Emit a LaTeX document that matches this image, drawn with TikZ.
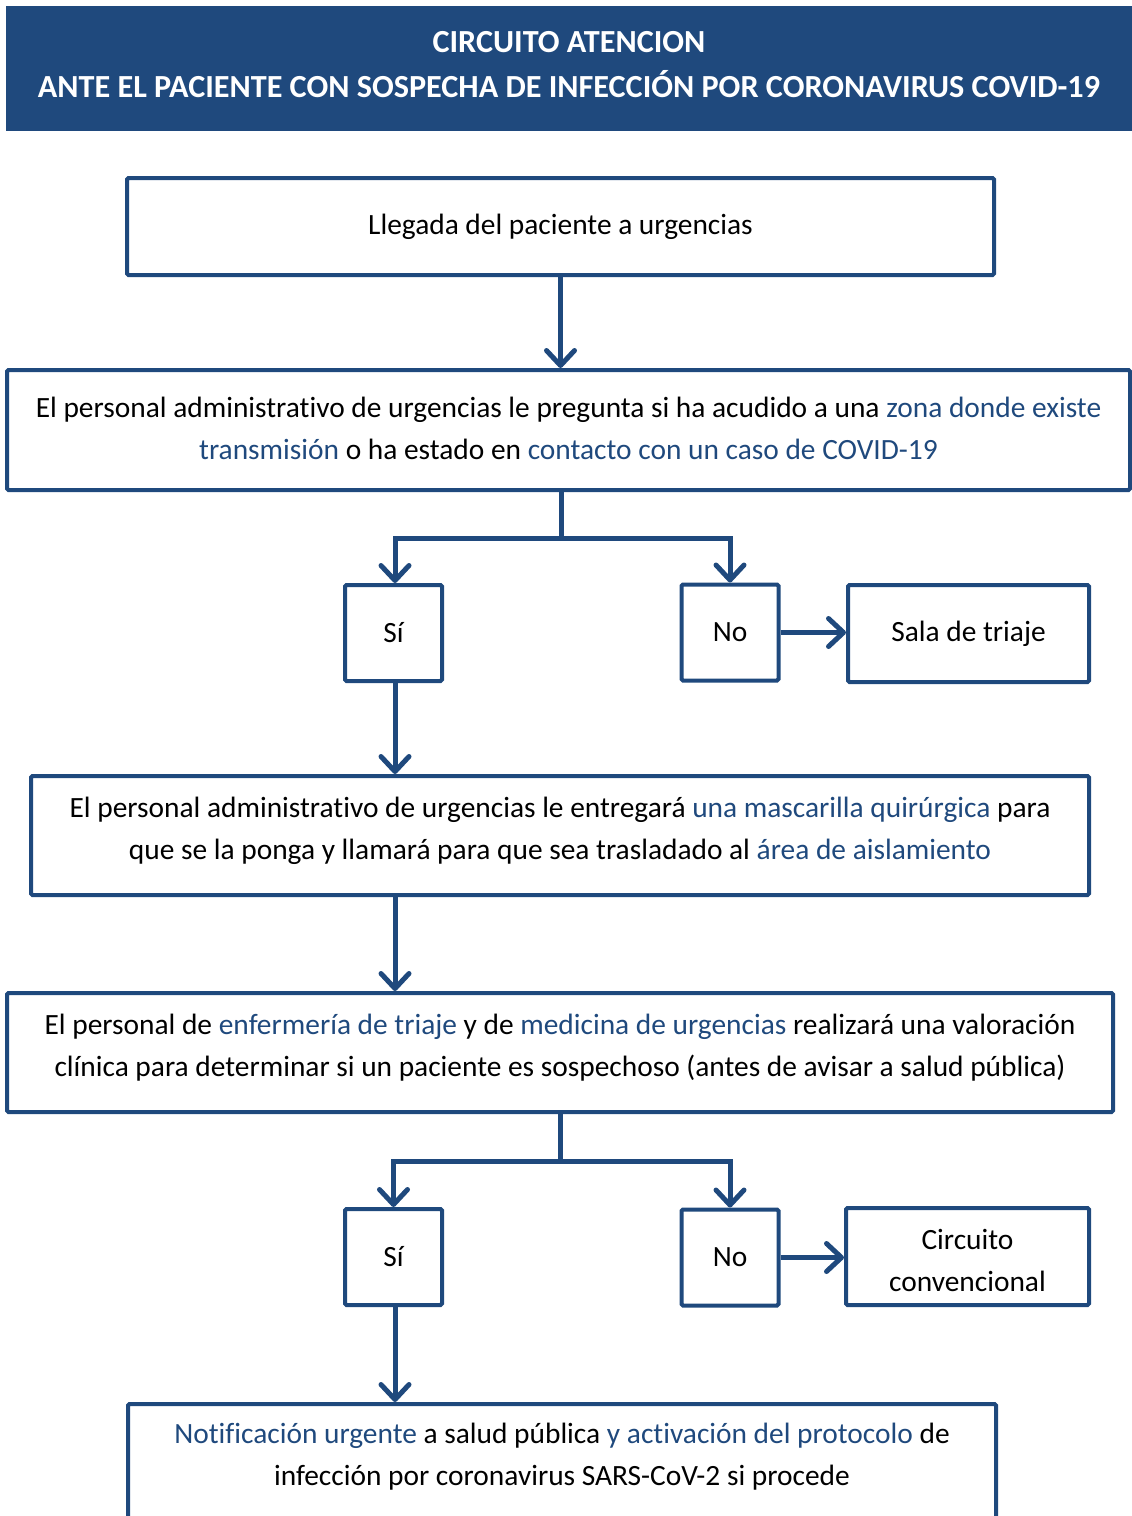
\documentclass[tikz,border=0pt]{standalone}
\usepackage{fontspec}
\setmainfont{Carlito}[Ligatures=NoCommon]
\usetikzlibrary{arrows.meta,positioning}
\definecolor{azul}{RGB}{31,73,125}
\newcommand{\resalta}[1]{\textcolor{azul}{#1}}

\begin{document}
\begin{tikzpicture}
  [x=1pt, y=-1pt,
  box/.style={rectangle, draw=azul, line width=4pt, rounded corners=1.5pt, align=center, inner sep=0pt, font=\fontsize{29.4}{42}\selectfont},
  texto/.style={align=center, inner sep=0pt, font=\fontsize{29.4}{42}\selectfont},
  line/.style={draw=azul, line width=5pt},
  arrow/.style={line, -{Straight Barb[length=15pt, width=28pt, line cap=round, line join=round]}}]
  \useasboundingbox (0,0) rectangle (1132,1516);
  % title
  \node [fill=azul, minimum width=1126, minimum height=125, align=center, text=white, text depth=8pt, font=\bfseries\fontsize{32.2}{45}\selectfont] (titulo) at (569,68.5)
    {CIRCUITO ATENCION\\ANTE EL PACIENTE CON SOSPECHA DE INFECCIÓN POR CORONAVIRUS COVID-19};
  % nodes
  \node [box, minimum width=867, minimum height=97] (llegada) at (560.5,226.5) {Llegada del paciente a urgencias};
  \node [box, minimum width=1123, minimum height=120, text depth=4pt] (pregunta) at (568.5,430)
    {El personal administrativo de urgencias le pregunta si ha acudido a una \resalta{zona donde existe}\\
     \resalta{transmisión} o ha estado en \resalta{contacto con un caso de COVID-19}};
  \node [box, minimum width=97, minimum height=96] (si1) at (393.5,633) {Sí};
  \node [box, minimum width=97, minimum height=96] (no1) at (730,632.5) {No};
  \node [box, minimum width=241, minimum height=97] (triaje) at (968.5,633.5) {Sala de triaje};
  \node [box, minimum width=1058, minimum height=119, text depth=14pt] (mascarilla) at (560,835.5)
    {El personal administrativo de urgencias le entregará \resalta{una mascarilla quirúrgica} para\\
     que se la ponga y llamará para que sea trasladado al \resalta{área de aislamiento}};
  \node [box, minimum width=1106, minimum height=119, text depth=14pt] (valoracion) at (560,1052.5)
    {El personal de \resalta{enfermería de triaje} y de \resalta{medicina de urgencias} realizará una valoración\\
     clínica para determinar si un paciente es sospechoso (antes de avisar a salud pública)};
  \node [box, minimum width=97, minimum height=96] (si2) at (393.5,1257) {Sí};
  \node [box, minimum width=97, minimum height=96] (no2) at (730,1257.5) {No};
  \node [box, minimum width=243, minimum height=97, text height=70pt] (convencional) at (967.5,1256.5) {Circuito\\convencional};
  \node [box, anchor=north, minimum width=868, minimum height=200] (notificacion) at (562,1402) {};
  \node [texto] (notiftexto) at (562,1457)
    {\resalta{Notificación urgente} a salud pública \resalta{y activación del protocolo} de\\
     infección por coronavirus SARS-CoV-2 si procede};
  \coordinate (rama1) at (561,538);
  \coordinate (rama2) at (560,1161);
  % edges
  \path [arrow] (llegada.south) -- (llegada.south |- pregunta.north);
  \path [line] (pregunta.south -| rama1) -- (rama1);
  \path [arrow] (rama1) -| ([xshift=1.5pt]si1.north);
  \path [arrow] (rama1) -| (no1.north);
  \path [arrow] (no1.east) -- (no1.east -| triaje.west);
  \path [arrow] ([xshift=1.5pt]si1.south) -- ([xshift=1.5pt]si1.south |- mascarilla.north);
  \path [arrow] ([xshift=1.5pt]mascarilla.south -| si1) -- ([xshift=1.5pt]si1 |- valoracion.north);
  \path [line] (valoracion.south -| rama2) -- (rama2);
  \path [arrow] (rama2) -| (si2.north);
  \path [arrow] (rama2) -| (no2.north);
  \path [arrow] (no2.east) -- (no2.east -| convencional.west);
  \path [arrow] ([xshift=1.5pt]si2.south) -- ([xshift=1.5pt]si2.south |- notificacion.north);
\end{tikzpicture}
\end{document}
